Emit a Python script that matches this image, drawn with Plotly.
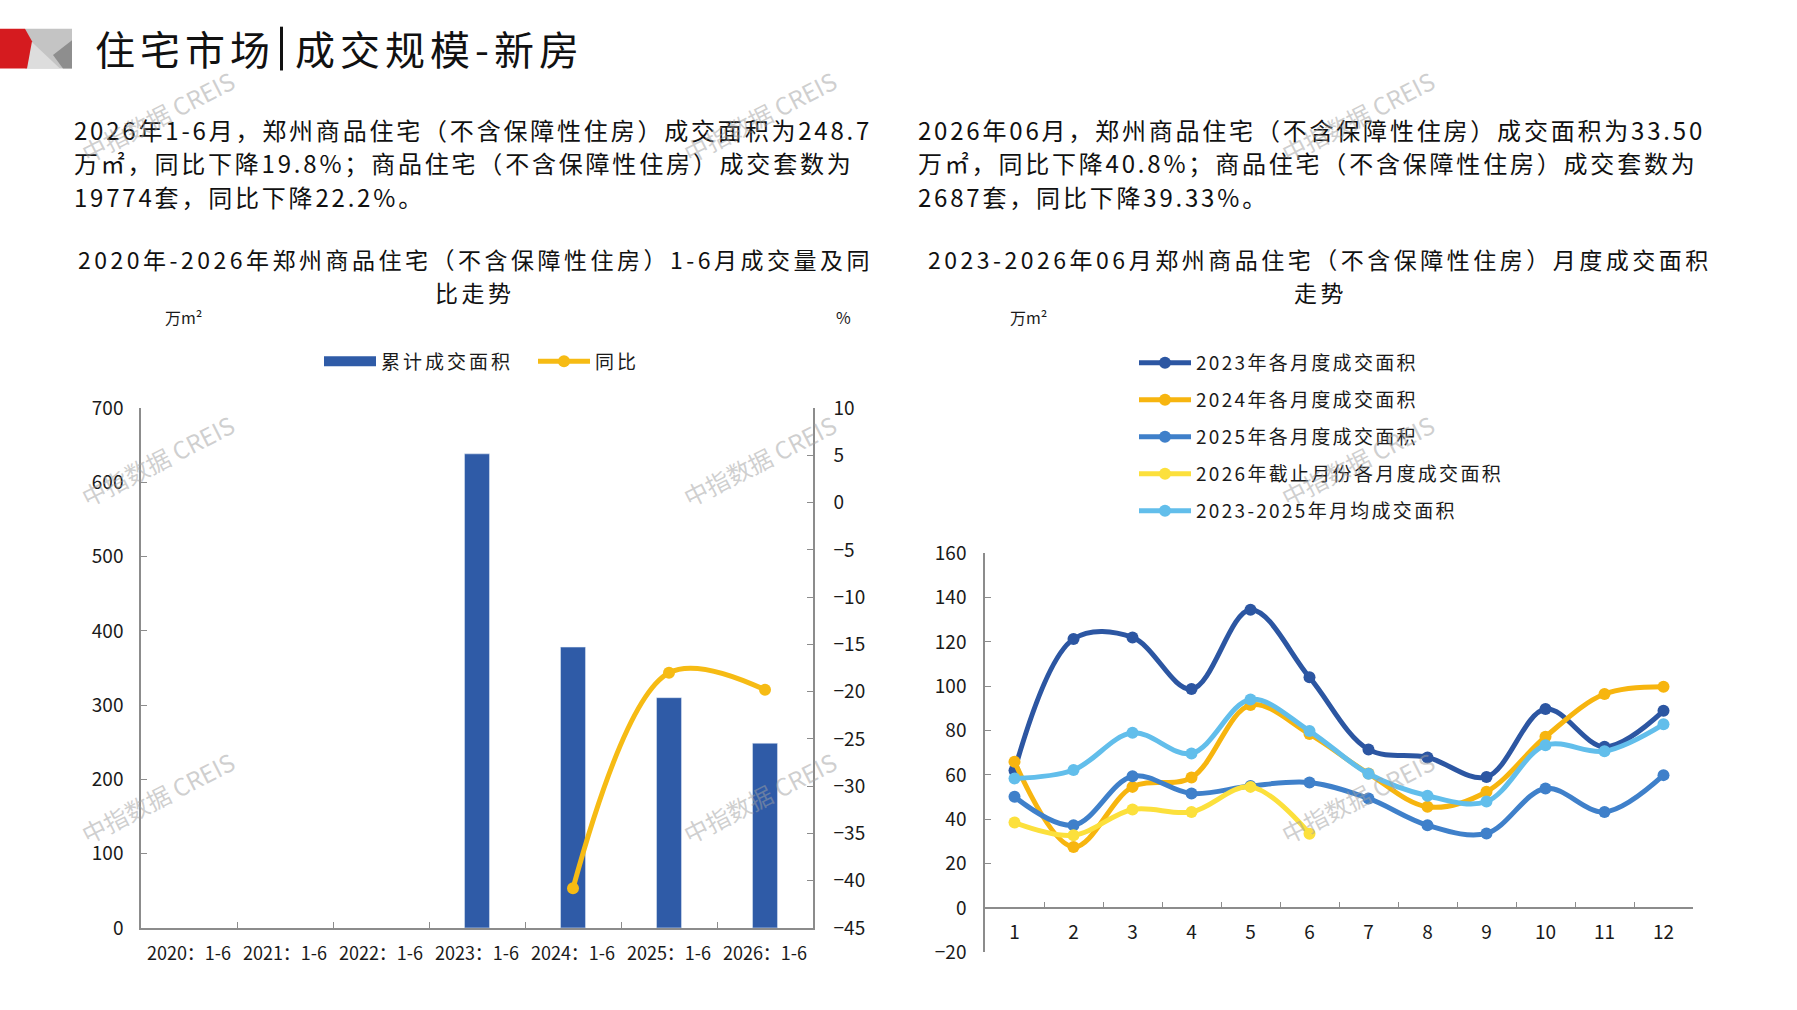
import plotly.graph_objects as go

W, H = 1797, 1010

# ---- left chart data (1-6月累计) ----
periods = ["2020：1-6", "2021：1-6", "2022：1-6", "2023：1-6", "2024：1-6", "2025：1-6", "2026：1-6"]
area_cum = [None, None, None, 638.5, 378.2, 310.1, 248.7]
yoy = [None, None, None, None, -40.8, -18.0, -19.8]

# ---- right chart data (月度成交面积) ----
months = ["1", "2", "3", "4", "5", "6", "7", "8", "9", "10", "11", "12"]
area_2023 = [62.0, 121.3, 122.0, 98.7, 134.5, 104.0, 71.5, 67.9, 59.1, 89.7, 72.7, 88.9]
area_2024 = [65.9, 27.5, 54.6, 58.8, 91.5, 78.4, 60.6, 45.6, 52.4, 77.2, 96.5, 99.8]
area_2025 = [50.1, 37.3, 59.4, 51.6, 55.0, 56.6, 49.4, 37.3, 33.6, 53.9, 43.3, 59.9]
area_2026 = [38.5, 32.8, 44.4, 43.3, 54.6, 33.5]
area_avg = [58.4, 62.2, 79.0, 69.7, 94.0, 79.8, 60.5, 50.6, 48.0, 73.4, 70.7, 82.8]

series_names = ["2023年各月度成交面积", "2024年各月度成交面积", "2025年各月度成交面积",
                "2026年截止月份各月度成交面积", "2023-2025年月均成交面积"]
series_colors = ["#2C56A2", "#F7B50F", "#3F80CA", "#FCE03C", "#62BEEB"]

para_left = ["2026年1-6月，郑州商品住宅（不含保障性住房）成交面积为248.7",
             "万㎡，同比下降19.8%；商品住宅（不含保障性住房）成交套数为",
             "19774套，同比下降22.2%。"]
para_right = ["2026年06月，郑州商品住宅（不含保障性住房）成交面积为33.50",
              "万㎡，同比下降40.8%；商品住宅（不含保障性住房）成交套数为",
              "2687套，同比下降39.33%。"]
title_left = ["2020年-2026年郑州商品住宅（不含保障性住房）1-6月成交量及同", "比走势"]
title_right = ["2023-2026年06月郑州商品住宅（不含保障性住房）月度成交面积", "走势"]

FONT = "Noto Sans CJK SC"
AXIS_COLOR = "#8C8C8C"
BAR_COLOR = "#2F5BA7"


def px(x):
    return x / W


def py(y):
    return 1 - y / H


def spaced(text, sp):
    # letter spacing, the source font is set wide
    return '<span style="letter-spacing:%spx">%s</span>' % (sp, text)


fig = go.Figure()

fig.add_trace(go.Bar(x=periods, y=area_cum, name="累计成交面积", marker_color=BAR_COLOR,
                     width=0.26, xaxis="x", yaxis="y", showlegend=False))
# legend entry for the bars, drawn as a wide swatch like the source
fig.add_trace(go.Scatter(x=[None], y=[None], name=spaced("累计成交面积", 3), mode="lines",
                         line=dict(color=BAR_COLOR, width=11), xaxis="x", yaxis="y",
                         legend="legend"))
fig.add_trace(go.Scatter(x=periods, y=yoy, name=spaced("同比", 3), mode="lines+markers",
                         line=dict(color="#F6BB14", width=5, shape="spline"),
                         marker=dict(size=12, color="#F6BB14"),
                         xaxis="x", yaxis="y3", legend="legend"))

for i, vals in enumerate([area_2023, area_2024, area_2025, area_2026, area_avg]):
    fig.add_trace(go.Scatter(x=months[:len(vals)], y=vals, name=spaced(series_names[i], 2.3),
                             mode="lines+markers",
                             line=dict(color=series_colors[i], width=5, shape="spline"),
                             marker=dict(size=12, color=series_colors[i]),
                             xaxis="x2", yaxis="y2", legend="legend2", legendgroup="g%d" % i))

axis_common = dict(showline=True, linecolor=AXIS_COLOR, linewidth=1.5, showgrid=False,
                   zeroline=False, ticks="inside", ticklen=6, tickcolor=AXIS_COLOR)
ytick_font = dict(family=FONT, size=19, color="#1a1a1a")
xtick_font = dict(family=FONT, size=18, color="#1a1a1a")

fig.update_layout(
    width=W, height=H,
    margin=dict(l=0, r=0, t=0, b=0),
    paper_bgcolor="white", plot_bgcolor="white",
    font=dict(family=FONT, color="#1a1a1a"),
    xaxis=dict(domain=[px(141), px(813)], type="category", tickson="boundaries", tickangle=0,
               range=[-0.5, 6.5], anchor="y", ticklabelstandoff=9, tickfont=xtick_font,
               **axis_common),
    yaxis=dict(domain=[py(938), py(404)], range=[0, 700], dtick=100, anchor="x",
               ticklabelstandoff=12, tickfont=ytick_font, **axis_common),
    yaxis3=dict(overlaying="y", side="right", range=[-45, 10], dtick=5, anchor="x",
                ticklabelstandoff=15, tickfont=ytick_font, **axis_common),
    xaxis2=dict(domain=[px(985), px(1693)], type="category", tickson="boundaries", tickangle=0,
                range=[-0.5, 11.5], anchor="free", position=py(918), ticklabelstandoff=7,
                tickfont=ytick_font, **axis_common),
    yaxis2=dict(domain=[py(963), py(553)], range=[-20, 160], dtick=20, anchor="x2",
                ticklabelstandoff=13, tickfont=ytick_font, **axis_common),
    legend=dict(orientation="h", x=px(319), xanchor="left", y=py(356), yanchor="middle",
                font=dict(family=FONT, size=19), itemwidth=52, entrywidth=147,
                bgcolor="rgba(0,0,0,0)"),
    legend2=dict(orientation="v", x=px(1134), xanchor="left", y=py(338), yanchor="top",
                 font=dict(family=FONT, size=19), tracegroupgap=9.3, traceorder="grouped",
                 itemwidth=52, bgcolor="rgba(0,0,0,0)"),
)

annotations = []
# page title, split around the vertical bar
annotations.append(dict(text=spaced("住宅市场", 5), x=px(93), y=py(34), xanchor="left",
                        yanchor="middle", font=dict(size=40, color="#111")))
annotations.append(dict(text=spaced("成交规模-新房", 5), x=px(293), y=py(34), xanchor="left",
                        yanchor="middle", font=dict(size=40, color="#111")))
# paragraphs, one line each
for k, line_y in enumerate([118, 152, 186]):
    annotations.append(dict(text=spaced(para_left[k], 2.8), x=px(72), y=py(line_y),
                            xanchor="left", yanchor="middle", font=dict(size=24, color="#111")))
    annotations.append(dict(text=spaced(para_right[k], 2.8), x=px(916), y=py(line_y),
                            xanchor="left", yanchor="middle", font=dict(size=24, color="#111")))
# chart titles
for k, line_y in enumerate([251, 285]):
    annotations.append(dict(text=spaced(title_left[k], 3.5), x=px(475), y=py(line_y),
                            xanchor="center", yanchor="middle", font=dict(size=23, color="#111")))
    annotations.append(dict(text=spaced(title_right[k], 3.5), x=px(1320), y=py(line_y),
                            xanchor="center", yanchor="middle", font=dict(size=23, color="#111")))
# units
annotations.append(dict(text="万m²", x=px(183), y=py(310), xanchor="center", yanchor="middle",
                        font=dict(size=16)))
annotations.append(dict(text="%", x=px(843), y=py(310), xanchor="center", yanchor="middle",
                        font=dict(size=16)))
annotations.append(dict(text="万m²", x=px(1028), y=py(310), xanchor="center", yanchor="middle",
                        font=dict(size=16)))
# watermarks
for wx in [157, 759, 1357]:
    for wy in [104, 458, 804]:
        annotations.append(dict(text="中指数据 CREIS", x=px(wx), y=py(wy), xanchor="center",
                                yanchor="middle", textangle=-27,
                                font=dict(family=FONT, size=24, color="rgba(160,160,160,0.5)")))
for a in annotations:
    a.update(xref="paper", yref="paper", showarrow=False)
fig.update_layout(annotations=annotations)


def path(points):
    return "M " + " L ".join("%f,%f" % (px(x), py(y)) for x, y in points) + " Z"


shapes = [
    dict(type="path", path=path([(25, 14), (72, 14), (72, 55), (25, 55)]), fillcolor="#C4C4C4"),
    dict(type="path", path=path([(31, 27), (60, 55), (27, 55)]), fillcolor="#DDDDDD"),
    dict(type="path", path=path([(72, 26), (53, 41), (63, 55), (72, 55)]), fillcolor="#8E8E8E"),
    dict(type="path", path=path([(0, 14), (25, 14), (32, 27), (27, 55), (0, 55)]), fillcolor="#D51B1F"),
    # title divider bar
    dict(type="path", path=path([(280, 12), (283, 12), (283, 57), (280, 57)]), fillcolor="#111"),
]
for s in shapes:
    s.update(xref="paper", yref="paper", line=dict(width=0), layer="above")
fig.update_layout(shapes=shapes)

fig.write_html("out.html", config={"displayModeBar": False},
               post_script="document.body.style.margin='0';document.body.style.overflow='hidden';")
